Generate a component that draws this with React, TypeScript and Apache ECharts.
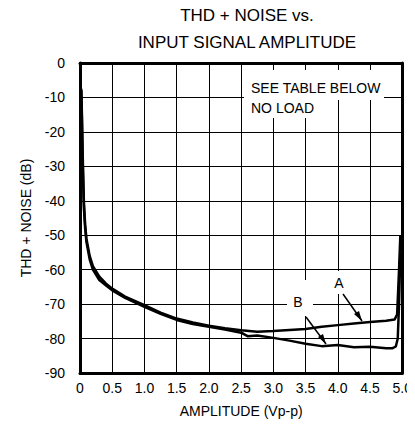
import React, { useEffect, useRef } from "react";
import * as echarts from "echarts";

const xTicks = ["0", "0.5", "1.0", "1.5", "2.0", "2.5", "3.0", "3.5", "4.0", "4.5", "5.0"];
const yTicks = [0, -10, -20, -30, -40, -50, -60, -70, -80, -90];

const curveAX = [0.02, 0.03, 0.04, 0.05, 0.06, 0.08, 0.1, 0.15, 0.2, 0.3, 0.4, 0.5, 0.7, 1.0, 1.25, 1.5, 1.75, 2.0, 2.25, 2.5, 2.75, 3.0, 3.25, 3.5, 3.75, 4.0, 4.25, 4.5, 4.75, 4.88, 4.92, 4.95, 4.97];
const curveAY = [-7.5, -15, -25, -33, -40, -47, -51, -56, -59, -62, -64, -65.5, -67.8, -70.3, -72.5, -74.2, -75.3, -76.3, -77, -77.6, -78, -77.8, -77.5, -77.2, -76.6, -76.1, -75.6, -75.2, -74.8, -74.5, -73, -60, -50];

const curveBX = [0.02, 0.03, 0.04, 0.05, 0.06, 0.08, 0.1, 0.15, 0.2, 0.3, 0.4, 0.5, 0.7, 1.0, 1.25, 1.5, 1.75, 2.0, 2.25, 2.5, 2.6, 2.75, 3.0, 3.25, 3.5, 3.75, 4.0, 4.25, 4.5, 4.75, 4.85, 4.9, 4.93, 4.95, 4.97];
const curveBY = [-8, -17, -27, -35, -42, -48, -52, -57, -60, -63, -64.5, -66, -68.2, -70.8, -72.8, -74.6, -75.8, -76.6, -77.4, -78.3, -79.3, -79.1, -79.8, -80.6, -81.5, -82.2, -81.9, -82.5, -82.4, -82.8, -82.8, -82.3, -80, -70, -55];

const FONT = "'Liberation Sans', Arial, sans-serif";
const frame = { show: true, onZero: false, lineStyle: { color: "#000", width: 3 } };
const split = { show: true, lineStyle: { color: "#000", width: 1, type: "solid" as const } };

export default function App() {
  const ref = useRef<HTMLDivElement>(null);
  useEffect(() => {
    const chart = echarts.init(ref.current!, null, { renderer: "svg" });
    const toPairs = (xs: number[], ys: number[]) => xs.map((x, i) => [x, ys[i]]);
    chart.setOption({
      animation: false,
      textStyle: { fontFamily: FONT },
      title: {
        text: "THD + NOISE vs.\nINPUT SIGNAL AMPLITUDE",
        left: 242,
        top: -3,
        textAlign: "center",
        textStyle: { fontFamily: FONT, fontSize: 17, fontWeight: "normal", color: "#000", lineHeight: 27 },
      },
      grid: { left: 80, right: 11, top: 63, bottom: 59 },
      xAxis: [
        {
          type: "value",
          position: "bottom",
          min: 0,
          max: 5,
          interval: 0.5,
          name: "AMPLITUDE (Vp-p)",
          nameLocation: "middle",
          nameGap: 31,
          nameTextStyle: { fontSize: 14, color: "#000", fontFamily: FONT },
          axisLine: frame,
          axisTick: { show: false },
          axisLabel: { fontSize: 14, color: "#000", margin: 8, formatter: (v: number) => xTicks[Math.round(v * 2)] ?? "" },
          splitLine: split,
        },
        {
          type: "value",
          position: "top",
          min: 0,
          max: 5,
          interval: 0.5,
          axisLine: frame,
          axisTick: { show: false },
          axisLabel: { show: false },
          splitLine: { show: false },
        },
      ],
      yAxis: [
        {
          type: "value",
          position: "left",
          min: -90,
          max: 0,
          interval: 10,
          name: "THD + NOISE (dB)",
          nameLocation: "middle",
          nameGap: 47,
          nameTextStyle: { fontSize: 14, color: "#000", fontFamily: FONT },
          axisLine: frame,
          axisTick: { show: false },
          axisLabel: { fontSize: 14, color: "#000", margin: 15, formatter: (v: number) => (yTicks.includes(v) ? String(v) : "") },
          splitLine: split,
        },
        {
          type: "value",
          position: "right",
          min: -90,
          max: 0,
          interval: 10,
          axisLine: frame,
          axisTick: { show: false },
          axisLabel: { show: false },
          splitLine: { show: false },
        },
      ],
      series: [
        { name: "A", type: "line", data: toPairs(curveAX, curveAY), showSymbol: false, lineStyle: { color: "#000", width: 2.5 }, z: 3 },
        { name: "B", type: "line", data: toPairs(curveBX, curveBY), showSymbol: false, lineStyle: { color: "#000", width: 2.5 }, z: 3 },
      ],
      graphic: [
        { type: "rect", z: 50, shape: { x: 244, y: 70, width: 140, height: 30 }, style: { fill: "#fff" } },
        { type: "rect", z: 50, shape: { x: 244, y: 98, width: 70, height: 20 }, style: { fill: "#fff" } },
        { type: "text", z: 51, x: 251, y: 88, style: { text: "SEE TABLE BELOW", fontSize: 14, fontFamily: FONT, fill: "#000", verticalAlign: "middle" } },
        { type: "text", z: 51, x: 251, y: 108, style: { text: "NO LOAD", fontSize: 14, fontFamily: FONT, fill: "#000", verticalAlign: "middle" } },
        { type: "rect", z: 50, shape: { x: 326, y: 271, width: 28, height: 23 }, style: { fill: "#fff" } },
        { type: "text", z: 51, x: 339, y: 283, style: { text: "A", fontSize: 14, fontFamily: FONT, fill: "#000", align: "center", verticalAlign: "middle" } },
        { type: "rect", z: 50, shape: { x: 287, y: 280, width: 26, height: 36 }, style: { fill: "#fff" } },
        { type: "text", z: 51, x: 298, y: 302, style: { text: "B", fontSize: 14, fontFamily: FONT, fill: "#000", align: "center", verticalAlign: "middle" } },
        { type: "line", z: 51, shape: { x1: 343, y1: 294, x2: 362, y2: 321 }, style: { stroke: "#000", lineWidth: 1.5 } },
        { type: "polygon", z: 51, shape: { points: [[362, 321], [354, 314], [359, 311]] }, style: { fill: "#000" } },
        { type: "line", z: 51, shape: { x1: 306, y1: 317, x2: 326, y2: 344 }, style: { stroke: "#000", lineWidth: 1.5 } },
        { type: "polygon", z: 51, shape: { points: [[326, 344], [318, 337], [323, 334]] }, style: { fill: "#000" } },
        { type: "text", z: 51, x: 410, y: 80, rotation: Math.PI / 2, style: { text: "MAX4200/03-08A", fontSize: 8, fontFamily: FONT, fill: "#000", align: "center", verticalAlign: "middle" } },
      ],
    });
    return () => chart.dispose();
  }, []);
  return <div ref={ref} style={{ width: 415, height: 432, marginLeft: -8, marginTop: -8 }} />;
}
